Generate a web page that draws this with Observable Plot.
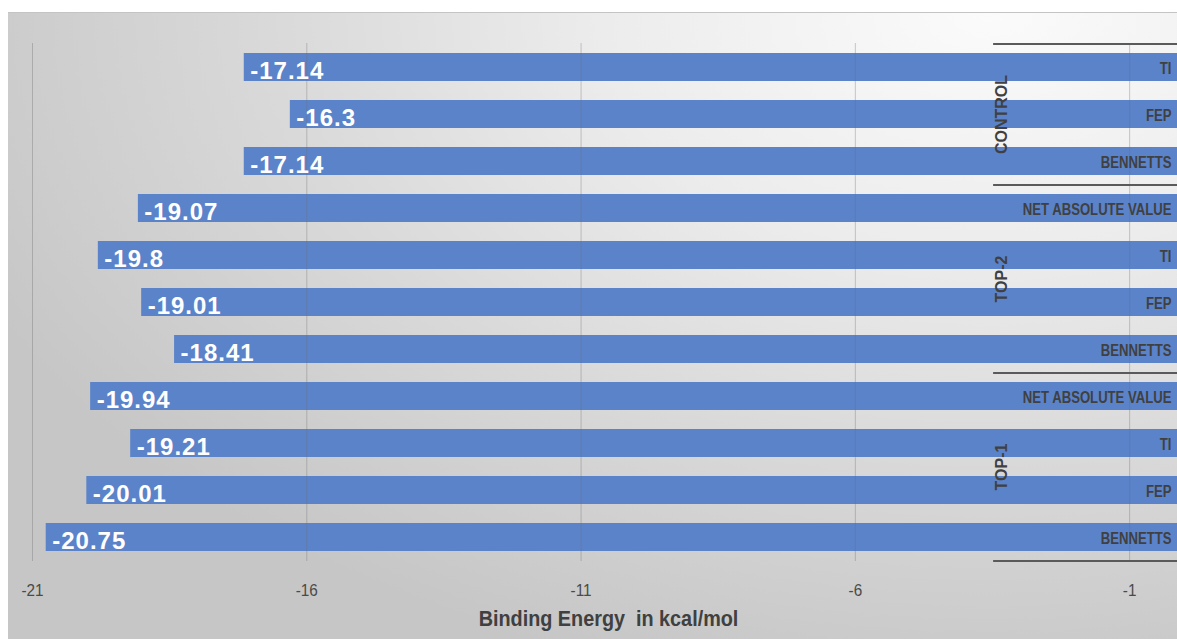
<!DOCTYPE html>
<html>
<head>
<meta charset="utf-8">
<script src="https://cdn.jsdelivr.net/npm/d3@7"></script>
<script src="https://cdn.jsdelivr.net/npm/@observablehq/plot@0.6"></script>
<style>
  html, body { margin: 0; padding: 0; background: #ffffff; overflow: hidden; }
  #wrap { position: relative; width: 1177px; height: 639px; overflow: hidden; }
  #panel {
    position: absolute; left: 8px; top: 12px; right: 0; bottom: 0;
    border-top: 1px solid #c4c4c4;
    background: radial-gradient(ellipse 95% 110% at 84% 0%, #fbfbfb 0%, #ececec 35%, #d9d9d9 65%, #c6c6c6 100%);
  }
  #chart { position: absolute; left: 0; top: 0; width: 1184px; }
  #chart svg { max-width: none !important; }
  text { white-space: pre; }
</style>
</head>
<body>
<div id="wrap">
  <div id="panel"></div>
  <div id="chart"></div>
</div>
<script>
// Binding energies (kcal/mol) per system and estimation method, top to bottom
const groups = ["CONTROL", "CONTROL", "CONTROL",
                "TOP-2", "TOP-2", "TOP-2", "TOP-2",
                "TOP-1", "TOP-1", "TOP-1", "TOP-1"];
const methods = ["TI", "FEP", "BENNETTS",
                 "NET ABSOLUTE VALUE", "TI", "FEP", "BENNETTS",
                 "NET ABSOLUTE VALUE", "TI", "FEP", "BENNETTS"];
const energies = [-17.14, -16.3, -17.14,
                  -19.07, -19.8, -19.01, -18.41,
                  -19.94, -19.21, -20.01, -20.75];
const xTicks = [-21, -16, -11, -6, -1];
const axisTitle = "Binding Energy  in kcal/mol";

const rows = energies.map((energy, i) => ({
  key: groups[i] + "|" + methods[i] + "|" + i,
  group: groups[i],
  method: methods[i],
  energy
}));
const keys = rows.map(d => d.key);

// Group extents for the two-level category axis on the right
const groupNames = [...new Set(groups)];
const groupInfo = groupNames.map(g => {
  const idx = rows.map((d, i) => d.group === g ? i : -1).filter(i => i >= 0);
  return {group: g, first: keys[idx[0]], last: keys[idx[idx.length - 1]], n: idx.length, start: idx[0]};
});

const width = 1184, height = 639;
const marginTop = 43, marginBottom = 78, marginLeft = 32, marginRight = 0;
const paddingInner = 0.4, paddingOuter = 0.2;
const step = (height - marginTop - marginBottom) / (keys.length - paddingInner + 2 * paddingOuter);

const barColor = "#5b83ca";
const textDark = "#404040";
const sans = "'Liberation Sans', Arial, sans-serif";
const categoryAxisStart = -3.48; // left end of the group separator lines
const groupLabelX = -3.32;

const plot = Plot.plot({
  width, height, marginTop, marginBottom, marginLeft, marginRight,
  style: {background: "transparent", overflow: "visible", maxWidth: "none"},
  x: {domain: [-21, 0]},
  y: {domain: keys, paddingInner, paddingOuter, axis: null},
  marks: [
    Plot.barX(rows, {x1: "energy", x2: 0, y: "key", fill: barColor}),
    // vertical gridlines, faintly visible over the bars
    Plot.ruleX(xTicks, {stroke: "#6e6e6e", strokeOpacity: 0.35, strokeWidth: 1}),
    Plot.axisX({
      ticks: xTicks, tickSize: 0, tickPadding: 22,
      tickFormat: d => String(d),
      fontSize: 17, fontFamily: sans, fill: "#4a4a4a", label: null
    }),
    // value labels inside the left end of each bar
    Plot.text(rows, {
      x: "energy", y: "key", text: d => String(d.energy),
      textAnchor: "start", dx: 6, dy: 4,
      fill: "#ffffff", fontSize: 24, fontWeight: "bold", fontFamily: sans
    }),
    // method names at the right end of each bar
    Plot.text(rows, {
      x: 0, y: "key", text: "method",
      textAnchor: "end", dx: -13, dy: 1,
      fill: textDark, fontSize: 16, fontWeight: "bold", fontFamily: sans
    }),
    // group separators
    Plot.ruleY(groupInfo, {y: "first", x1: categoryAxisStart, x2: 0, dy: -step / 2, stroke: "#5a5a5a", strokeWidth: 2}),
    Plot.ruleY(groupInfo.slice(-1), {y: "last", x1: categoryAxisStart, x2: 0, dy: step / 2, stroke: "#5a5a5a", strokeWidth: 2}),
    // group names, rotated
    Plot.text(groupInfo, {
      x: groupLabelX, y: d => keys[d.start + Math.floor((d.n - 1) / 2)],
      text: "group", rotate: -90,
      fill: textDark, fontSize: 16, fontWeight: "bold", fontFamily: sans
    }),
    // axis title
    Plot.text([axisTitle], {
      frameAnchor: "bottom", text: d => d, dy: 64,
      fill: textDark, fontSize: 22, fontWeight: "bold", fontFamily: sans
    })
  ]
});

document.getElementById("chart").appendChild(plot);

// text layers in mark order: values, methods, group names, axis title
const textLayers = plot.querySelectorAll('g[aria-label="text"]');
const [valueLayer, methodLayer, groupLayer, titleLayer] = textLayers;
const tickLayer = plot.querySelector('g[aria-label="x-axis tick label"]');

if (valueLayer) valueLayer.style.letterSpacing = "1px";

// narrow the condensed labels horizontally
function condense(layer, factor) {
  if (!layer) return;
  layer.querySelectorAll("text").forEach(t => {
    const w = t.getComputedTextLength();
    t.setAttribute("textLength", (w * factor).toFixed(2));
    t.setAttribute("lengthAdjust", "spacingAndGlyphs");
  });
}
condense(methodLayer, 0.82);
condense(tickLayer, 0.9);
condense(titleLayer, 0.9);

// four-row groups: centre the name between their 2nd and 3rd rows
if (groupLayer) groupLayer.querySelectorAll("text").forEach((t, i) => {
  const g = groupInfo[i];
  const off = ((g.n - 1) / 2 - Math.floor((g.n - 1) / 2)) * step;
  if (off) {
    const tr = t.getAttribute("transform") || "";
    t.setAttribute("transform", `translate(0,${off}) ` + tr);
  }
});
</script>
</body>
</html>
